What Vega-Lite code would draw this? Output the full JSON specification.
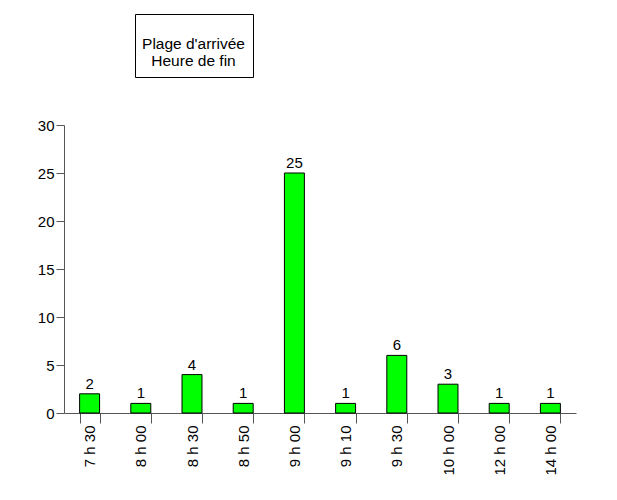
{
  "$schema": "https://vega.github.io/schema/vega-lite/v6.json",
  "autosize": {"type": "none"},
  "padding": {"left": 64, "top": 125, "right": 41, "bottom": 87},
  "width": 512,
  "height": 288,
  "background": "white",
  "config": {
    "font": "Liberation Sans",
    "view": {"stroke": null},
    "axis": {"grid": false, "labelFont": "Liberation Sans", "labelFontSize": 15, "labelColor": "black", "domainColor": "#555", "tickColor": "#555", "title": null}
  },
  "data": {
    "values": [
      {"heure": "7 h 30", "n": 2, "serie": "Heure de fin"},
      {"heure": "8 h 00", "n": 1, "serie": "Heure de fin"},
      {"heure": "8 h 30", "n": 4, "serie": "Heure de fin"},
      {"heure": "8 h 50", "n": 1, "serie": "Heure de fin"},
      {"heure": "9 h 00", "n": 25, "serie": "Heure de fin"},
      {"heure": "9 h 10", "n": 1, "serie": "Heure de fin"},
      {"heure": "9 h 30", "n": 6, "serie": "Heure de fin"},
      {"heure": "10 h 00", "n": 3, "serie": "Heure de fin"},
      {"heure": "12 h 00", "n": 1, "serie": "Heure de fin"},
      {"heure": "14 h 00", "n": 1, "serie": "Heure de fin"}
    ]
  },
  "encoding": {
    "x": {
      "field": "heure", "type": "nominal", "sort": null,
      "scale": {"paddingInner": 0.61, "paddingOuter": 0.305},
      "axis": {"labelAngle": -90, "tickBand": "extent", "tickSize": 10, "labelPadding": 2}
    },
    "y": {
      "field": "n", "type": "quantitative",
      "scale": {"domain": [0, 30], "nice": false},
      "axis": {"values": [0, 5, 10, 15, 20, 25, 30], "tickSize": 8, "labelPadding": 2}
    }
  },
  "layer": [
    {
      "mark": {"type": "bar", "stroke": "black", "strokeWidth": 1},
      "encoding": {
        "color": {
          "field": "serie", "type": "nominal",
          "scale": {"range": ["#00ff00"]},
          "legend": {
            "orient": "none", "legendX": 71, "legendY": -111,
            "title": ["Plage d'arrivée", "Heure de fin"],
            "titleOrient": "bottom", "titleAnchor": "middle", "titleAlign": "center",
            "titleFont": "Liberation Sans", "titleFontSize": 15.5, "titleFontWeight": "normal",
            "titleLineHeight": 17.5, "titleColor": "black", "titlePadding": 10,
            "labelExpr": "''", "labelFontSize": 0, "symbolSize": 0, "symbolStrokeWidth": 0, "symbolOpacity": 0,
            "padding": 7.5, "strokeColor": "black", "fillColor": "white"
          }
        }
      }
    },
    {
      "mark": {"type": "text", "baseline": "bottom", "dy": -2, "fontSize": 15, "font": "Liberation Sans", "color": "black"},
      "encoding": {"text": {"field": "n", "type": "quantitative"}}
    }
  ]
}
